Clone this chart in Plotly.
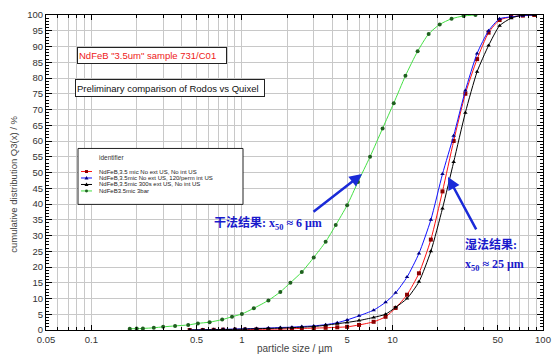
import plotly.graph_objects as go

# ---------------- data ----------------
dry_x = [0.18, 0.2, 0.22, 0.26, 0.3, 0.36, 0.44, 0.51, 0.61, 0.74, 0.86, 1.0, 1.2, 1.5, 1.8, 2.1,
         2.5, 3.0, 3.6, 4.2, 5.0, 5.9, 7.1, 8.6, 10.2, 12.2, 14.7, 17.4, 20.6, 24.7, 29.7, 35.6]
dry_y = [0.4, 0.45, 0.5, 0.7, 1.0, 1.3, 1.6, 2.1, 2.5, 3.3, 4.2, 5.1, 6.9, 9.4, 12.1, 15.0,
         18.4, 23.0, 28.0, 33.3, 39.6, 47.0, 55.0, 64.0, 72.0, 80.7, 88.5, 94.0, 97.0, 98.8, 99.7, 100.0]

wet_x = [0.45, 0.55, 0.65, 0.75, 0.9, 1.05, 1.25, 1.5, 1.8, 2.15, 2.5, 3.0, 3.6, 4.3, 5.0, 6.0,
         7.5, 9.0, 10.5, 12.5, 15.0, 18.0, 21.5, 25.5, 30.5, 36.5, 43.5, 51.5, 61.5, 73.5, 87.5]
red_y = [0.0, 0.0, 0.05, 0.1, 0.1, 0.15, 0.2, 0.25, 0.3, 0.4, 0.5, 0.6, 0.7, 0.85, 1.0, 1.6,
         2.6, 4.2, 7.0, 11.2, 18.0, 28.7, 44.0, 60.0, 75.0, 86.0, 94.4, 98.4, 99.4, 99.8, 100.0]
blue_y = [0.0, 0.1, 0.15, 0.2, 0.3, 0.4, 0.5, 0.6, 0.8, 0.9, 1.1, 1.3, 1.7, 2.3, 3.2, 4.5,
          6.3, 8.8, 11.8, 16.8, 24.3, 35.0, 49.5, 61.7, 76.0, 87.8, 95.0, 98.8, 99.4, 99.8, 100.0]
black_y = [0.0, 0.05, 0.1, 0.15, 0.2, 0.3, 0.4, 0.5, 0.6, 0.75, 0.9, 1.1, 1.5, 2.0, 2.4, 3.0,
           4.0, 5.0, 7.2, 10.0, 15.3, 25.0, 38.6, 53.3, 69.0, 82.0, 90.3, 96.6, 99.0, 100.0, 100.0]

series_names = ["NdFeB,3.5 mic No ext US, No int US",
                "NdFeB,3.5mic No ext US, 120/perm int US",
                "NdFeB,3.5mic 300s ext US, No int US",
                "NdFeB3.5mic 3bar"]

x_tickvals = [0.05, 0.1, 0.5, 1, 5, 10, 50, 100]
x_ticktext = ["0.05", "0.1", "0.5", "1", "5", "10", "50", "100"]
x_minor = [m * 10 ** e for e in (-2, -1, 0, 1) for m in range(1, 10) if 0.05 <= m * 10 ** e <= 100] + [100]

# ---------------- geometry helpers (pixel -> paper) ----------------
L, R, T, B = 46, 543, 9, 330
W, H = R - L, B - T


def px(x):
    return (x - L) / W


def py(y):
    return (B - y) / H


fig = go.Figure()

styles = [
    (wet_x, red_y, "#ff1010", "#8b0000", "square"),
    (wet_x, blue_y, "#1010ff", "#000080", "triangle-up"),
    (wet_x, black_y, "#000000", "#000000", "triangle-up"),
    (dry_x, dry_y, "#44e044", "#1f5f1f", "circle"),
]
for (xs, ys, lc, mc, sym), name in zip(styles, series_names):
    fig.add_trace(go.Scatter(x=xs, y=ys, mode="lines+markers", name=name,
                             line=dict(color=lc, width=1, shape="spline", smoothing=0.6),
                             marker=dict(color=mc, size=4, symbol=sym),
                             showlegend=False))

tickfont = dict(family="Liberation Sans, Arial", size=9.5, color="#333333")
fig.update_xaxes(type="log", range=[-1.30103, 2], tickmode="array", tickvals=x_tickvals,
                 ticktext=x_ticktext, tickfont=tickfont, ticks="inside", ticklen=5,
                 tickcolor="black", showline=True, linecolor="black", linewidth=1,
                 mirror="allticks", showgrid=True, gridcolor="#c8c8c8", gridwidth=1,
                 zeroline=False, ticklabelstandoff=1,
                 minor=dict(tickmode="array", tickvals=x_minor, ticks="inside", ticklen=3,
                            tickcolor="black", showgrid=True, gridcolor="#c8c8c8", gridwidth=1))
fig.update_yaxes(range=[0, 100], dtick=5, tick0=0, tickfont=tickfont, ticks="inside", ticklen=6,
                 tickcolor="black", showline=True, linecolor="black", linewidth=1,
                 mirror="allticks", showgrid=True, gridcolor="#c8c8c8", gridwidth=1,
                 zeroline=False,
                 minor=dict(dtick=1, ticks="inside", ticklen=3, tickcolor="black", showgrid=False))

ann = []
# axis titles
ann.append(dict(text="particle size / µm", x=px(294), y=py(349), xref="paper", yref="paper",
                xanchor="center", yanchor="middle", showarrow=False,
                font=dict(family="Liberation Sans, Arial", size=10, color="#444444")))
ann.append(dict(text="cumulative distribution Q3(x) / %", x=px(14), y=py(182), xref="paper",
                yref="paper", xanchor="center", yanchor="middle", textangle=-90, showarrow=False,
                font=dict(family="Liberation Sans, Arial", size=9.5, color="#444444")))
# text boxes
ann.append(dict(text='NdFeB "3.5um" sample 731/C01', x=px(77), y=py(42), xref="paper", yref="paper",
                xanchor="left", yanchor="top", showarrow=False, align="left",
                width=146, height=13, borderpad=1, bordercolor="#222222", borderwidth=1,
                bgcolor="white", font=dict(family="Liberation Sans, Arial", size=9.5, color="#ee2020")))
ann.append(dict(text="Preliminary comparison of Rodos vs Quixel", x=px(75), y=py(74), xref="paper",
                yref="paper", xanchor="left", yanchor="top", showarrow=False, align="left",
                width=186, height=14, borderpad=1, bordercolor="#222222", borderwidth=1,
                bgcolor="white", font=dict(family="Liberation Sans, Arial", size=9.5, color="#111111")))

# manual legend
shapes = [dict(type="rect", xref="paper", yref="paper", x0=px(78), x1=px(243), y0=py(145), y1=py(202),
               line=dict(color="#222222", width=1), fillcolor="white", layer="above")]
ann.append(dict(text="identifier", x=px(97), y=py(154), xref="paper", yref="paper", xanchor="left",
                yanchor="middle", showarrow=False,
                font=dict(family="Liberation Sans, Arial", size=6.5, color="#333333")))
leg_y = [168.5, 175.1, 181.7, 188.3]
for (xs, ys, lc, mc, sym), name, yy in zip(styles, series_names, leg_y):
    shapes.append(dict(type="line", xref="paper", yref="paper", x0=px(81), x1=px(92), y0=py(yy), y1=py(yy),
                       line=dict(color=lc, width=1), layer="above"))
    if sym == "square":
        shapes.append(dict(type="rect", xref="paper", yref="paper", x0=px(85), x1=px(88),
                           y0=py(yy - 1.5), y1=py(yy + 1.5), fillcolor=mc, line=dict(width=0),
                           layer="above"))
    elif sym == "circle":
        shapes.append(dict(type="circle", xref="paper", yref="paper", x0=px(85), x1=px(88),
                           y0=py(yy - 1.5), y1=py(yy + 1.5), fillcolor=mc, line=dict(width=0),
                           layer="above"))
    else:
        shapes.append(dict(type="path", xref="paper", yref="paper",
                           path=f"M {px(84.5)} {py(yy + 1.6)} L {px(88.5)} {py(yy + 1.6)} L {px(86.5)} {py(yy - 2)} Z",
                           fillcolor=mc, line=dict(width=0), layer="above"))
    ann.append(dict(text=name, x=px(97), y=py(yy), xref="paper", yref="paper", xanchor="left",
                    yanchor="middle", showarrow=False,
                    font=dict(family="Liberation Sans, Arial", size=6, color="#222222")))

# Chinese annotations + arrows
cn_font = dict(family="Liberation Serif, Times New Roman, Noto Sans CJK SC", size=12, color="#1a1acc")
ann.append(dict(text="<b>干法结果: x<sub>50</sub> ≈ 6 μm</b>", x=px(212), y=py(221), xref="paper",
                yref="paper", xanchor="left", yanchor="middle", showarrow=False, font=cn_font))
ann.append(dict(text="<b>湿法结果:</b>", x=px(463), y=py(243), xref="paper", yref="paper",
                xanchor="left", yanchor="middle", showarrow=False, font=cn_font))
ann.append(dict(text="<b>x<sub>50</sub> ≈ 25 μm</b>", x=px(463), y=py(264), xref="paper", yref="paper",
                xanchor="left", yanchor="middle", showarrow=False, font=cn_font))
ann.append(dict(text="", x=px(362), y=py(171), xref="paper", yref="paper", showarrow=True,
                ax=-50, ay=39, arrowhead=2, arrowsize=1, arrowwidth=2.5, arrowcolor="#1a2ad8"))
ann.append(dict(text="", x=px(448), y=py(174), xref="paper", yref="paper", showarrow=True,
                ax=29, ay=54, arrowhead=2, arrowsize=1, arrowwidth=2.5, arrowcolor="#1a2ad8"))

fig.update_layout(width=560, height=360, margin=dict(l=L, r=560 - R, t=T, b=360 - B),
                  paper_bgcolor="white", plot_bgcolor="white", annotations=ann, shapes=shapes,
                  showlegend=False)

fig.write_html("out.html", config={"displayModeBar": False},
               post_script="document.body.style.margin='0px';")
